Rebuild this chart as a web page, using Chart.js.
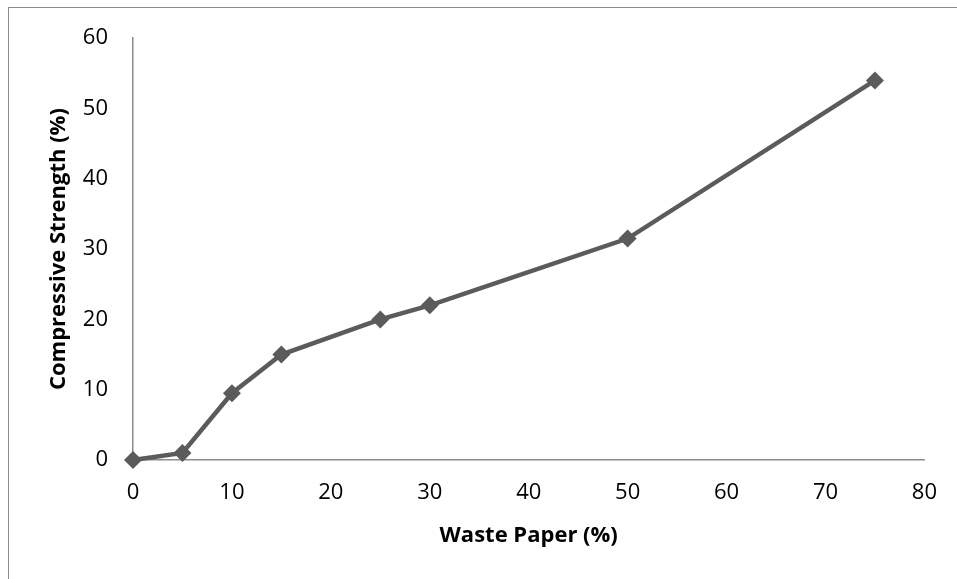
<!DOCTYPE html>
<html>
<head>
<meta charset="utf-8">
<script src="https://cdn.jsdelivr.net/npm/chart.js@4"></script>
<style>
  html, body { margin: 0; padding: 0; background: #fff; }
  #wrap { position: relative; width: 957px; height: 579px; overflow: hidden; }
  #frame { position: absolute; left: 8px; top: 7px; right: -2px; bottom: -2px;
           border-top: 1px solid #8c8c8c; border-left: 1px solid #8c8c8c; }
  canvas { position: absolute; left: 0; top: 0; }
</style>
</head>
<body>
<div id="wrap">
  <div id="frame"></div>
  <canvas id="chart" width="957" height="579"></canvas>
</div>
<script>
// waste paper content (%) and compressive strength (%)
const wastePaper = [0, 5, 10, 15, 25, 30, 50, 75];
const strength = [0, 1, 9.5, 15, 20, 22, 31.5, 54];
const xTicks = [0, 10, 20, 30, 40, 50, 60, 70, 80];
const yTicks = [0, 10, 20, 30, 40, 50, 60];

const points = wastePaper.map((x, i) => ({ x: x, y: strength[i] }));
const lineColor = '#5b5b5b';
const fontFamily = "'Open Sans', 'Noto Sans', sans-serif";

const ctx = document.getElementById('chart').getContext('2d');
new Chart(ctx, {
  type: 'scatter',
  data: {
    datasets: [{
      label: 'Compressive Strength',
      data: points,
      showLine: true,
      clip: false,
      borderColor: lineColor,
      backgroundColor: lineColor,
      borderWidth: 4.5,
      pointStyle: 'rectRot',
      pointRadius: 9,
      pointBorderWidth: 0,
      pointHoverRadius: 9,
      tension: 0
    }]
  },
  options: {
    responsive: false,
    animation: false,
    layout: { padding: { left: 0, top: 37, right: 30, bottom: 0 } },
    plugins: { legend: { display: false }, tooltip: { enabled: false } },
    scales: {
      x: {
        type: 'linear',
        min: 0, max: 80,
        afterBuildTicks: s => { s.ticks = xTicks.map(v => ({ value: v })); },
        afterFit: s => { s.height = 119; },
        grid: { display: false, drawTicks: false },
        border: { display: true, color: '#8c8c8c', width: 1.5 },
        ticks: { color: '#000', padding: 20, font: { family: fontFamily, size: 22 } },
        title: {
          display: true, text: 'Waste Paper (%)', color: '#000',
          padding: { top: 0, bottom: 30 },
          font: { family: fontFamily, size: 22, weight: 'bold' }
        }
      },
      y: {
        min: 0, max: 60,
        afterBuildTicks: s => { s.ticks = yTicks.map(v => ({ value: v })); },
        afterFit: s => { s.width = 133; },
        grid: { display: false, drawTicks: false },
        border: { display: true, color: '#8c8c8c', width: 1.5 },
        ticks: { color: '#000', padding: 25, font: { family: fontFamily, size: 22 } },
        title: {
          display: true, text: 'Compressive Strength (%)', color: '#000',
          padding: { top: 46, bottom: 0 },
          font: { family: fontFamily, size: 22, weight: 'bold' }
        }
      }
    }
  }
});
</script>
</body>
</html>
